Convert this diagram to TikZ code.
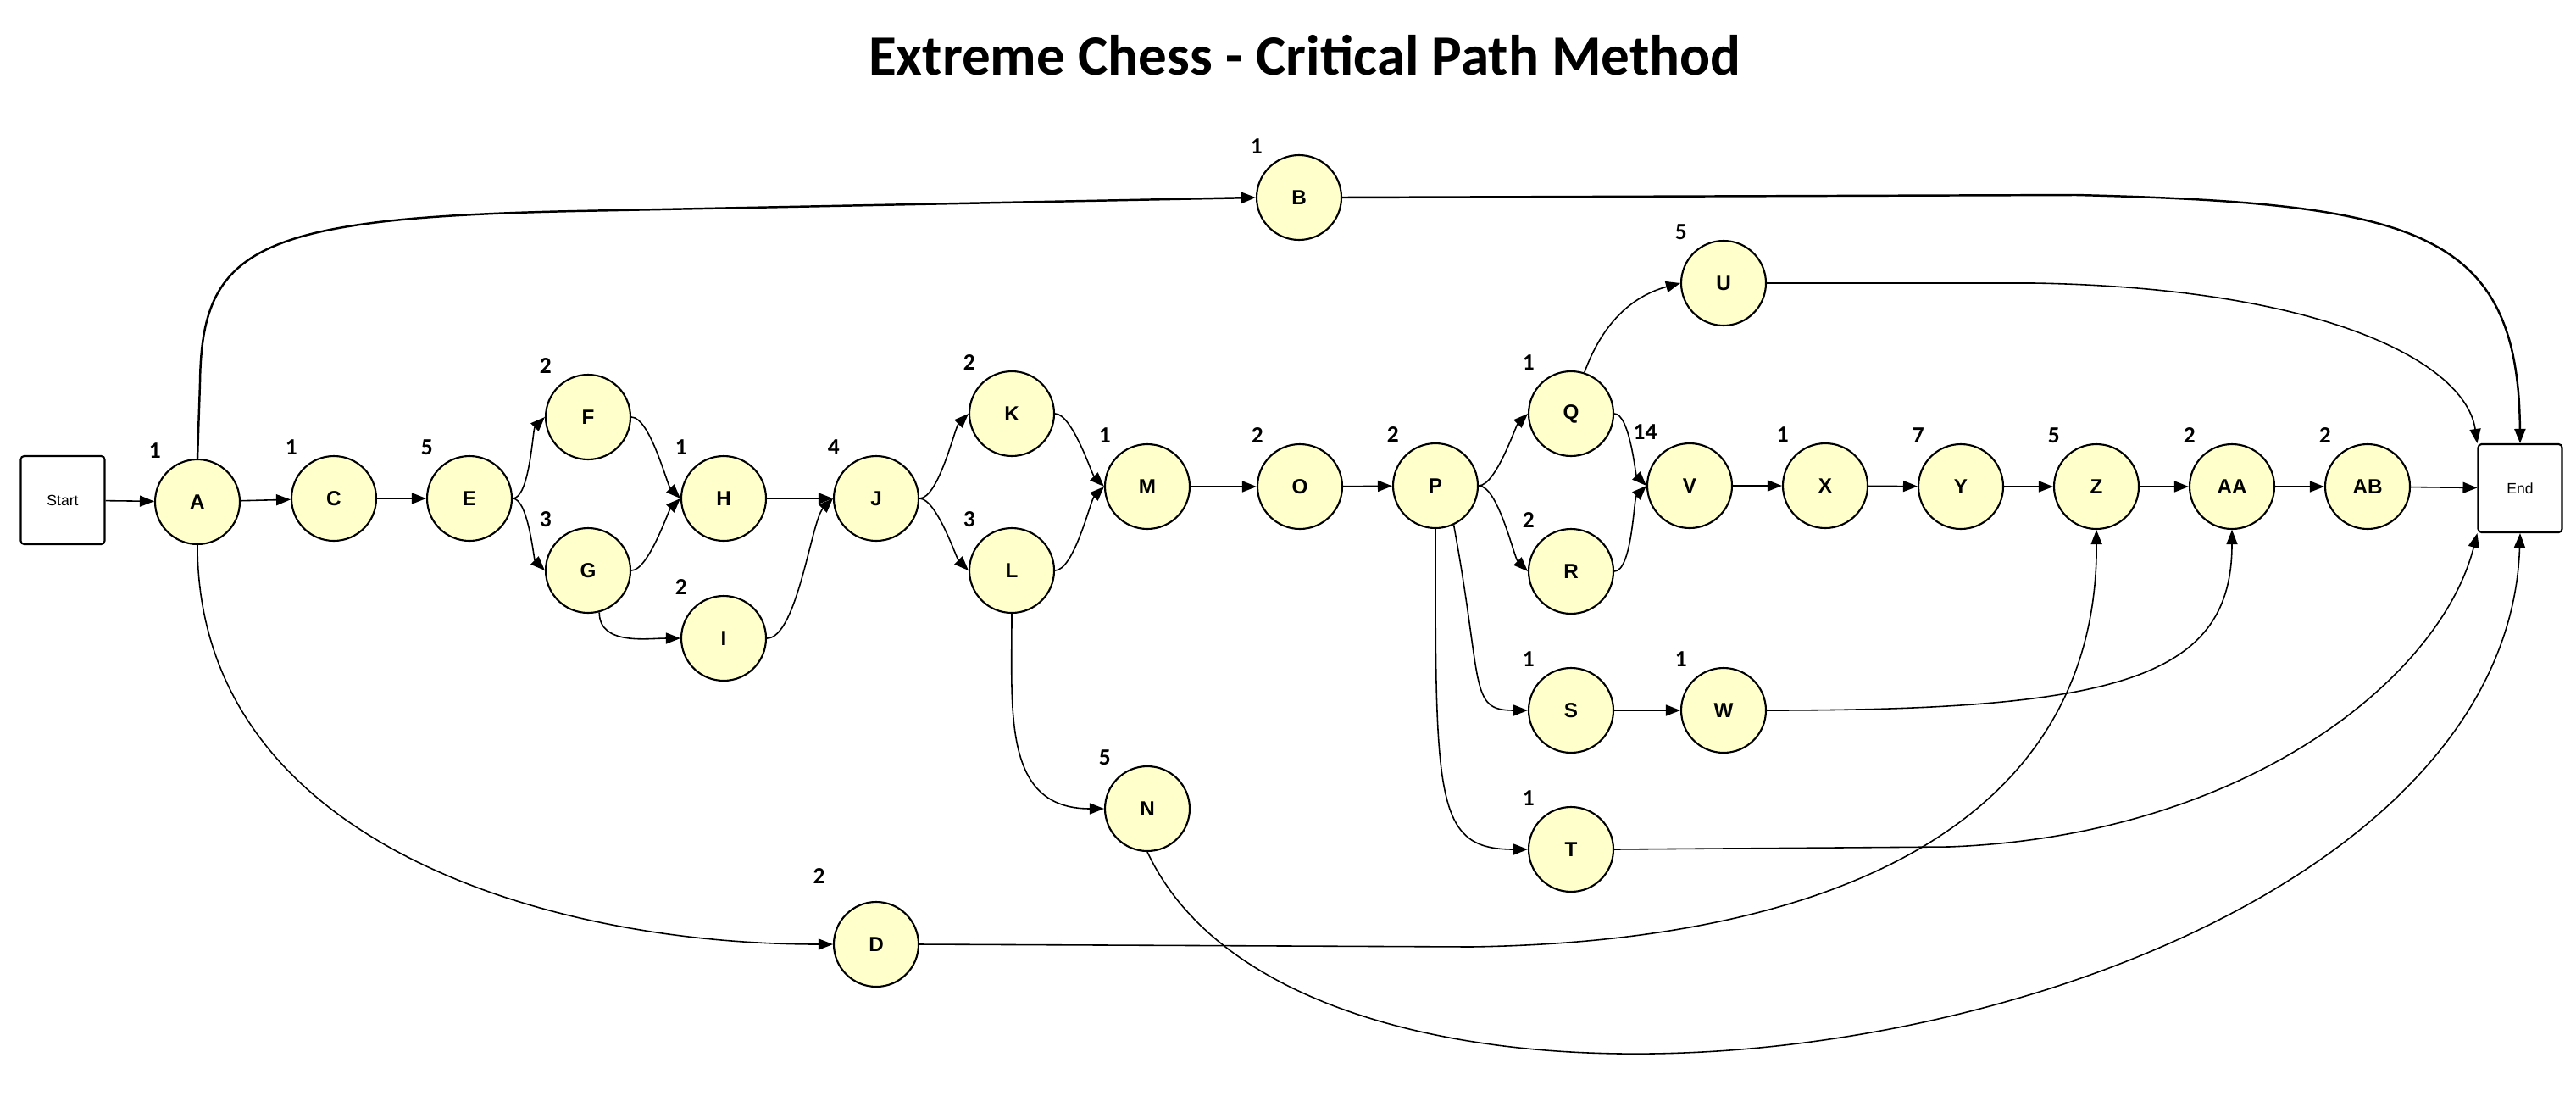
\documentclass[tikz,border=0pt]{standalone}
\usepackage{fontspec}
\setmainfont{Liberation Sans}
\newfontfamily\calibri{Carlito}
\usetikzlibrary{arrows.meta}
\definecolor{actfill}{RGB}{255,255,204}

\begin{document}
\begin{tikzpicture}[
    act/.style={circle, draw, line width=0.6pt, fill=actfill, minimum size=1cm, inner sep=0pt, font=\fontsize{6.9}{8}\selectfont\bfseries},
    term/.style={rectangle, draw, line width=0.6pt, rounded corners=0.04cm, minimum width=0.99cm, minimum height=1.04cm, inner sep=0pt, font=\fontsize{5}{6}\selectfont},
    wt/.style={inner sep=0pt, font=\calibri\bfseries\fontsize{7.8}{9}\selectfont},
    label distance=0.15cm,
    link/.style={line width=0.45pt, -{Triangle[length=0.17cm,width=0.13cm]}},
    heavy/.style={link, line width=0.7pt},
    bendup/.style={out=0, in=-135, looseness=0.5},
    benddown/.style={out=0, in=135, looseness=0.5}]

        \useasboundingbox[fill=white] (0,0) rectangle (30.40,13.12);

        \node[font=\calibri\bfseries\fontsize{19.1}{22}\selectfont, anchor=base] (title) at (15.40,12.24) {Extreme Chess - Critical Path Method};

        % --- MAIN ROW ---
        \node[term] (start) at (0.74,7.22) {Start};
        \node[act] (A) at (2.33,7.20) [label={[wt]130:1}] {A};
        \node[act] (C) at (3.94,7.24) [label={[wt]130:1}] {C};
        \node[act] (E) at (5.54,7.24) [label={[wt]130:5}] {E};
        \node[act] (F) at (6.94,8.20) [label={[wt]130:2}] {F};
        \node[act] (G) at (6.94,6.39) [label={[wt]130:3}] {G};
        \node[act] (H) at (8.54,7.24) [label={[wt]130:1}] {H};
        \node[act] (I) at (8.54,5.59) [label={[wt]130:2}] {I};
        \node[act] (J) at (10.34,7.24) [label={[wt]130:4}] {J};
        \node[act] (K) at (11.94,8.24) [label={[wt]130:2}] {K};
        \node[act] (L) at (11.94,6.39) [label={[wt]130:3}] {L};
        \node[act] (M) at (13.54,7.38) [label={[wt]130:1}] {M};
        \node[act] (O) at (15.34,7.38) [label={[wt]130:2}] {O};
        \node[act] (P) at (16.94,7.39) [label={[wt]130:2}] {P};
        \node[act] (Q) at (18.54,8.24) [label={[wt]130:1}] {Q};
        \node[act] (R) at (18.54,6.38) [label={[wt]130:2}] {R};
        \node[act] (V) at (19.94,7.39) [label={[wt]125:14}] {V};
        \node[act] (X) at (21.54,7.39) [label={[wt]130:1}] {X};
        \node[act] (Y) at (23.14,7.38) [label={[wt]130:7}] {Y};
        \node[act] (Z) at (24.74,7.38) [label={[wt]130:5}] {Z};
        \node[act] (AA) at (26.34,7.38) [label={[wt]130:2}] {AA};
        \node[act] (AB) at (27.94,7.38) [label={[wt]130:2}] {AB};
        \node[term] (end) at (29.74,7.36) {End};

        % --- SIDE BRANCHES ---
        \node[act] (B) at (15.33,10.79) [label={[wt]130:1}] {B};
        \node[act] (U) at (20.34,9.78) [label={[wt]130:5}] {U};
        \node[act] (S) at (18.54,4.74) [label={[wt]130:1}] {S};
        \node[act] (W) at (20.34,4.74) [label={[wt]130:1}] {W};
        \node[act] (T) at (18.54,3.10) [label={[wt]130:1}] {T};
        \node[act] (N) at (13.54,3.58) [label={[wt]130:5}] {N};
        \node[act] (D) at (10.34,1.98) [label={[wt, label distance=0.42cm]130:2}] {D};

        % straight links
        \draw[link] (start) -- (A);
        \draw[link] (A) -- (C);
        \draw[link] (C) -- (E);
        \draw[link] (H) -- (J);
        \draw[link] (M) -- (O);
        \draw[link] (O) -- (P);
        \draw[link] (V) -- (X);
        \draw[link] (X) -- (Y);
        \draw[link] (Y) -- (Z);
        \draw[link] (Z) -- (AA);
        \draw[link] (AA) -- (AB);
        \draw[link] (AB) -- (end);
        \draw[link] (S) -- (W);

        % forks and joins
        \draw[link] (E.east) to[bendup] (F.west);
        \draw[link] (E.east) to[benddown] (G.west);
        \draw[link] (F.east) to[benddown] (H.west);
        \draw[link] (G.east) to[bendup] (H.west);
        \draw[link] (G.-75) to[out=-90, in=180] (I.west);
        \draw[link] (I.east) to[bendup] (J.west);
        \draw[link] (J.east) to[bendup] (K.west);
        \draw[link] (J.east) to[benddown] (L.west);
        \draw[link] (K.east) to[benddown] (M.west);
        \draw[link] (L.east) to[bendup] (M.west);
        \draw[link] (L.south) to[out=-90, in=180, looseness=1.2] (N.west);
        \draw[link] (P.east) to[bendup] (Q.west);
        \draw[link] (P.east) to[benddown] (R.west);
        \draw[link] (P.-65) .. controls +(0.35,-1.9) and +(-0.7,0) .. (S.west);
        \draw[link] (P.south) .. controls +(0,-3.2) and +(-1.1,0) .. (T.west);
        \draw[link] (Q.72) to[out=70, in=195] (U.west);
        \draw[link] (Q.east) to[benddown] (V.west);
        \draw[link] (R.east) to[bendup] (V.west);

        % long arcs
        \draw[heavy] (A.north) -- (2.36,8.60) .. controls (2.38,10.20) and (3.00,10.55) .. (6.80,10.63) -- (B.west);
        \draw[heavy] (B.east) -- (24.50,10.82) .. controls (28.50,10.72) and (29.72,10.42) .. (end.north);
        \draw[link] (U.east) -- (24.00,9.78) .. controls (27.50,9.72) and (29.10,8.82) .. (end.north west);
        \draw[link] (A.south) to[out=-90, in=180] (D.west);
        \draw[link] (D.east) -- (17.36,1.95) .. controls (22.00,2.02) and (24.76,3.62) .. (Z.south);
        \draw[link] (W.east) .. controls (25.00,4.74) and (26.34,5.12) .. (AA.south);
        \draw[link] (T.east) -- (23.00,3.13) .. controls (26.50,3.26) and (28.80,5.12) .. (end.south west);
        \draw[link] (N.south) .. controls +(2.11,-4.50) and +(-0.19,-6.00) .. (end.south);

    \end{tikzpicture}
\end{document}
